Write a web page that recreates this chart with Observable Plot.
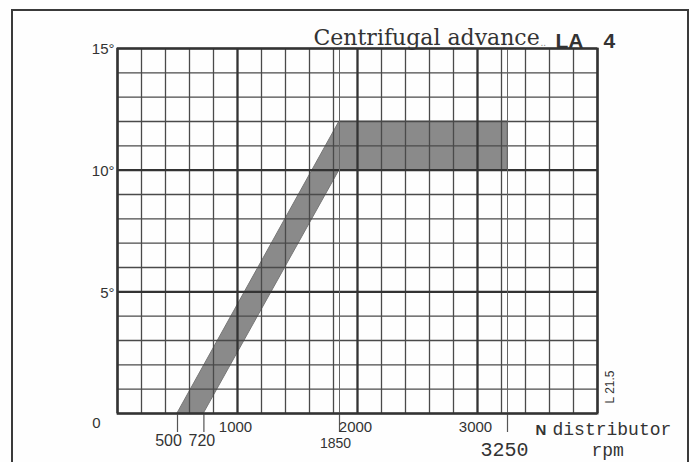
<!DOCTYPE html>
<html><head><meta charset="utf-8">
<script src="https://cdn.jsdelivr.net/npm/d3@7"></script>
<script src="https://cdn.jsdelivr.net/npm/@observablehq/plot@0.6"></script>
<style>
html,body{margin:0;padding:0;background:#fff;}
#wrap{position:relative;width:690px;height:462px;overflow:hidden;background:#fefefe;}
#border{position:absolute;left:11px;top:9px;width:674px;height:470px;border:2px solid #3a3a3a;border-bottom:none;}
#chart{position:absolute;left:0;top:0;}
</style></head><body>
<div id="wrap"><div id="border"></div><div id="chart"></div></div>
<script>
// Band: upper (max advance) and lower (min advance) curves
const upperRpm = [500, 1850, 3250];
const upperAdv = [0, 12, 12];
const lowerRpm = [720, 1850, 3250];
const lowerAdv = [0, 10, 10];

// Axes / labels
const majorRpmTicks = [1000, 2000, 3000];
const markedRpm = [500, 720, 1850, 3250];
const fullLineRpm = [1850, 3250];
const advTicks = [5, 10, 15];
const gridRpm = d3.range(0, 4001, 200);
const gridAdv = d3.range(0, 16, 1);
const heavyRpm = [0, 1000, 2000, 3000, 4000];
const heavyAdv = [0, 5, 10, 15];

const band = upperRpm.map((r, i) => ({ux: r, uy: upperAdv[i], lx: lowerRpm[i], ly: lowerAdv[i]}));

const ink = "#333";
const sans = "'Liberation Sans', Arial, sans-serif";
const mono = "'Liberation Mono', 'DejaVu Sans Mono', monospace";
const serif = "'DejaVu Serif', serif";
const M = "middle";

const chart = Plot.plot({
  width: 690,
  height: 462,
  marginLeft: 117,
  marginRight: 93,
  marginTop: 48,
  marginBottom: 49,
  style: {background: "transparent", color: ink, fontFamily: sans, fontSize: "15px"},
  x: {domain: [0, 4000], axis: null},
  y: {domain: [0, 15], axis: null},
  marks: [
    Plot.area(band, {x1: "ux", y1: "uy", x2: "lx", y2: "ly", fill: "#8a8a8a", stroke: "#777", strokeWidth: 1}),
    Plot.ruleX(gridRpm, {stroke: "#4a4a4a", strokeWidth: 1.3}),
    Plot.ruleY(gridAdv, {stroke: "#4a4a4a", strokeWidth: 1.3}),
    Plot.ruleX(heavyRpm, {stroke: "#333", strokeWidth: 2.2}),
    Plot.ruleY(heavyAdv, {stroke: "#333", strokeWidth: 2.2}),
    Plot.ruleX(fullLineRpm, {stroke: "#666", strokeWidth: 1}),
    Plot.axisX({ticks: markedRpm, tickSize: 19, tickFormat: () => "", stroke: "#555", strokeWidth: 1.2}),
    Plot.axisX({ticks: majorRpmTicks, tickSize: 0, tickPadding: 8, dx: -2, fontSize: 15, tickFormat: d => String(d), label: null}),
    Plot.axisY({ticks: advTicks, tickSize: 0, tickPadding: 3, tickFormat: d => d + "°", fontSize: 15, dy: 1, label: null}),
    Plot.text([0], {x: 0, y: 0, text: d => String(d), lineAnchor: M, dx: -21, dy: 10, fontSize: 15}),
    Plot.text([500], {x: d => d, frameAnchor: "bottom", lineAnchor: M, text: d => String(d), dx: -9, dy: 27, fontSize: 16}),
    Plot.text([720], {x: d => d, frameAnchor: "bottom", lineAnchor: M, text: d => String(d), dx: -2, dy: 27, fontSize: 16}),
    Plot.text([1850], {x: d => d, frameAnchor: "bottom", lineAnchor: M, text: d => String(d), dx: -4, dy: 30.5, fontSize: 14}),
    Plot.text([3250], {x: d => d, frameAnchor: "bottom", lineAnchor: M, text: d => String(d), dx: -3, dy: 36, fontSize: 20, fontFamily: mono, fontWeight: 300}),
    Plot.text(["N"], {frameAnchor: "bottom-left", lineAnchor: M, dx: 418, dy: 17, fontSize: 15, fontWeight: "bold"}),
    Plot.text(["distributor"], {frameAnchor: "bottom-left", lineAnchor: M, textAnchor: "start", dx: 435, dy: 16, fontSize: 18, fontFamily: mono, letterSpacing: 0.6}),
    Plot.text(["rpm"], {frameAnchor: "bottom-left", lineAnchor: M, textAnchor: "start", dx: 474, dy: 37, fontSize: 18, fontFamily: mono}),
    Plot.text(["L 21.5"], {frameAnchor: "bottom-right", lineAnchor: M, dx: 13, dy: -43, rotate: -90, fontSize: 12}),
    Plot.text(["Centrifugal advance"], {frameAnchor: "top-left", lineAnchor: M, textAnchor: "start", dx: 196, dy: -11, fontSize: 22, fontFamily: serif}),
    Plot.text([".."], {frameAnchor: "top-left", lineAnchor: M, textAnchor: "start", dx: 423, dy: -6, fontSize: 10, fill: "#888"}),
    Plot.text(["LA"], {frameAnchor: "top-left", lineAnchor: M, textAnchor: "start", dx: 438, dy: -7, fontSize: 21, fontWeight: "bold"}),
    Plot.text(["4"], {frameAnchor: "top-left", lineAnchor: M, textAnchor: "start", dx: 486, dy: -7, fontSize: 21, fontWeight: "bold"}),
    Plot.frame({stroke: "#333", strokeWidth: 2})
  ]
});
document.getElementById("chart").appendChild(chart);
</script>
</body></html>
